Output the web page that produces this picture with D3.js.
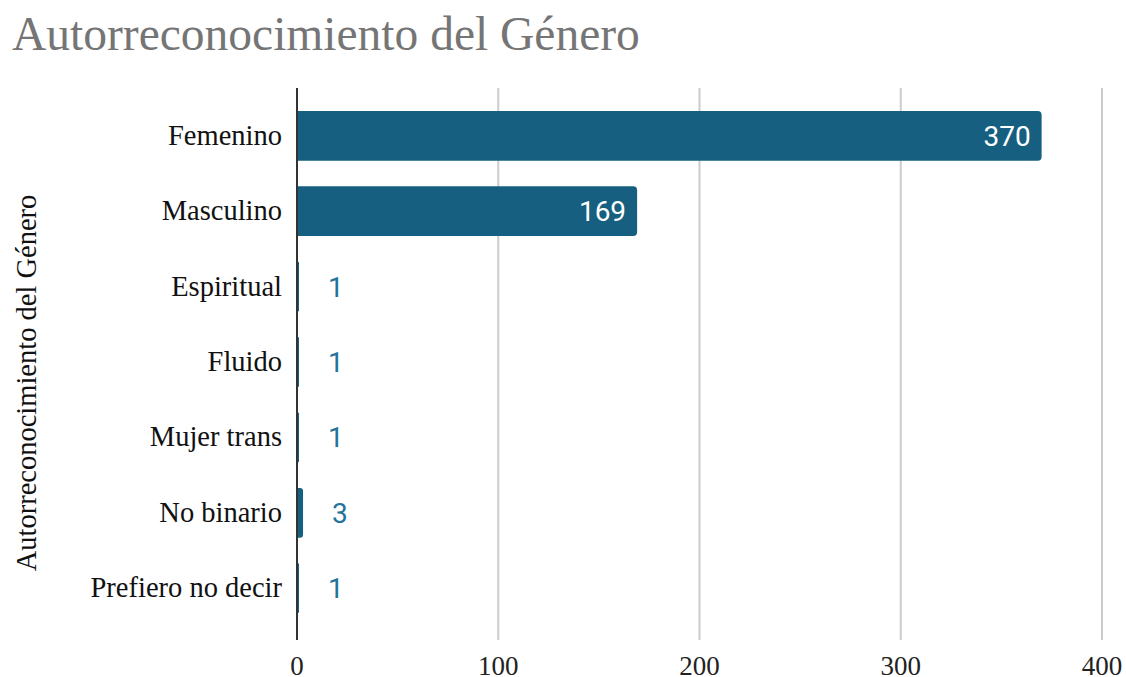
<!DOCTYPE html>
<html>
<head>
<meta charset="utf-8">
<script src="https://cdn.jsdelivr.net/npm/d3@7"></script>
<style>
  body { margin: 0; background: #fff; }
  svg { display: block; }
</style>
</head>
<body>
<svg id="chart" width="1126" height="677"></svg>
<script>
// data
var categories = ['Femenino', 'Masculino', 'Espiritual', 'Fluido', 'Mujer trans', 'No binario', 'Prefiero no decir']
var values = [370, 169, 1, 1, 1, 3, 1]
var xTicks = [0, 100, 200, 300, 400]

var svg = d3.select('#chart')
var serif = '"Liberation Serif", "Times New Roman", serif'
var barColor = '#165f80'

var x = d3.scaleLinear()
    .domain([0, 400])
    .range([297, 1102])

var y = d3.scaleBand()
    .domain(categories)
    .range([86, 638])
    .paddingInner(0.34)
    .paddingOuter(0.33)

// title
svg.append('text')
    .attr('x', 12)
    .attr('y', 50)
    .style('font-family', serif)
    .style('font-size', '47.5px')
    .style('fill', '#757575')
    .text('Autorreconocimiento del Género')

// gridlines
svg.append('g')
    .selectAll('line')
    .data(xTicks.filter(function(d) { return d > 0 }))
    .enter().append('line')
    .attr('x1', function(d) { return x(d) })
    .attr('x2', function(d) { return x(d) })
    .attr('y1', 88)
    .attr('y2', 640)
    .style('stroke', '#cccccc')
    .style('stroke-width', 2)

// x tick labels
svg.append('g')
    .selectAll('text')
    .data(xTicks)
    .enter().append('text')
    .attr('x', function(d) { return x(d) })
    .attr('y', 675)
    .attr('text-anchor', 'middle')
    .style('font-family', serif)
    .style('font-size', '27px')
    .style('fill', '#222')
    .text(function(d) { return d })

// bars with rounded right end
function barPath(d, i) {
    var x0 = x(0), x1 = x(d), y0 = y(categories[i]), h = y.bandwidth()
    var w = x1 - x0
    var r = Math.min(4, w / 2)
    return 'M' + x0 + ',' + y0 +
        'H' + (x1 - r) +
        'Q' + x1 + ',' + y0 + ' ' + x1 + ',' + (y0 + r) +
        'V' + (y0 + h - r) +
        'Q' + x1 + ',' + (y0 + h) + ' ' + (x1 - r) + ',' + (y0 + h) +
        'H' + x0 + 'Z'
}

svg.append('g')
    .selectAll('path')
    .data(values)
    .enter().append('path')
    .attr('d', barPath)
    .style('fill', barColor)

// value labels
svg.append('g')
    .selectAll('text')
    .data(values)
    .enter().append('text')
    .attr('x', function(d) { return d > 50 ? x(d) - 11 : x(d) + 29 })
    .attr('y', function(d, i) { return y(categories[i]) + y.bandwidth() / 2 + 10 })
    .attr('text-anchor', function(d) { return d > 50 ? 'end' : 'start' })
    .style('font-family', 'Roboto, sans-serif')
    .style('font-size', '28px')
    .style('fill', function(d) { return d > 50 ? '#ffffff' : '#23739a' })
    .text(function(d) { return d })

// category labels
svg.append('g')
    .selectAll('text')
    .data(categories)
    .enter().append('text')
    .attr('x', 282)
    .attr('y', function(d) { return y(d) + y.bandwidth() / 2 + 9 })
    .attr('text-anchor', 'end')
    .style('font-family', serif)
    .style('font-size', '28.5px')
    .style('fill', '#111')
    .text(function(d) { return d })

// zero axis line
svg.append('line')
    .attr('x1', x(0))
    .attr('x2', x(0))
    .attr('y1', 88)
    .attr('y2', 640)
    .style('stroke', '#333')
    .style('stroke-width', 2)

// y axis title
svg.append('text')
    .attr('transform', 'translate(36,383) rotate(-90)')
    .attr('text-anchor', 'middle')
    .style('font-family', serif)
    .style('font-size', '28.5px')
    .style('fill', '#111')
    .text('Autorreconocimiento del Género')
</script>
</body>
</html>
